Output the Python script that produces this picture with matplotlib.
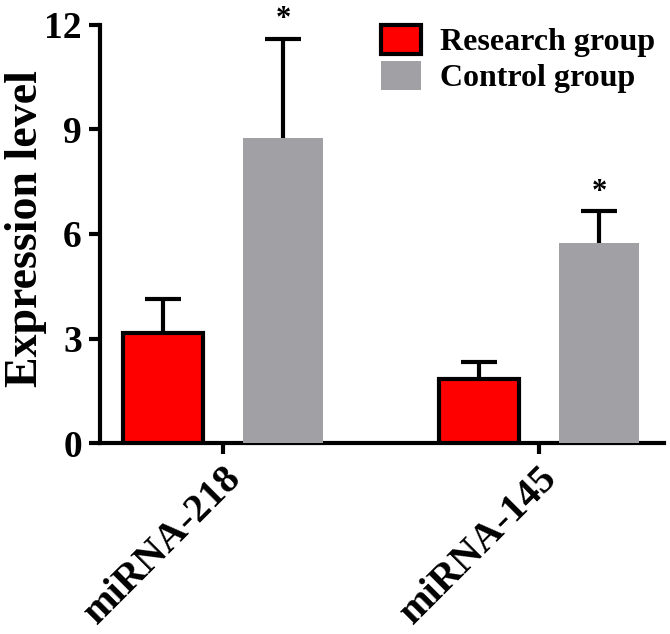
import numpy as np
import matplotlib
matplotlib.use("Agg")
import matplotlib.pyplot as plt
import matplotlib.transforms as mtrans

plt.rcParams['font.family'] = ['Liberation Serif', 'DejaVu Serif']
plt.rcParams['font.weight'] = 'bold'

# data
genes = ["miRNA-218", "miRNA-145"]
research_mean = [3.15, 1.85]
research_err = [0.98, 0.48]
control_mean = [8.75, 5.75]
control_err = [2.85, 0.9]
groups = ["Research group", "Control group"]

fig = plt.figure(figsize=(6.7, 6.34), dpi=100)
ax = fig.add_axes([0.149, 0.301, 0.842, 0.66])

x = np.arange(len(genes))
off = 0.19
w = 0.255

b1 = ax.bar(x - off, research_mean, width=w, color="#ff0000", edgecolor="black",
            linewidth=3, label=groups[0], zorder=3,
            yerr=[np.zeros(len(genes)), research_err], capsize=13,
            error_kw=dict(elinewidth=3, capthick=3, ecolor="black", zorder=2))
b2 = ax.bar(x + off, control_mean, width=w, color="#a1a1a5", edgecolor="none",
            label=groups[1], zorder=3,
            yerr=[np.zeros(len(genes)), control_err], capsize=13,
            error_kw=dict(elinewidth=3, capthick=3, ecolor="black", zorder=2))

# only the upper half of each error bar is shown, drop the lower caps
for bc, means in [(b1, research_mean), (b2, control_mean)]:
    for cap in bc.errorbar.lines[1]:
        if np.allclose(cap.get_ydata(), means):
            cap.set_visible(False)

# significance stars above control bars
for xi, m, e in zip(x, control_mean, control_err):
    ax.text(xi + off, m + e + 0.12, "*", ha="center", va="bottom",
            fontsize=22, fontweight="bold")

ax.set_xlim(-0.39, 1.396)
ax.set_ylim(0, 12)
ax.set_yticks([0, 3, 6, 9, 12])
ax.set_xticks(x)
ax.set_xticklabels(genes, rotation=45, ha="right", rotation_mode="anchor",
                   fontsize=29, fontweight="bold")
shift = mtrans.ScaledTranslation(-0.09, 0, fig.dpi_scale_trans)
for lbl in ax.get_xticklabels():
    lbl.set_transform(lbl.get_transform() + shift)
ax.tick_params(axis="y", labelsize=27, width=3, length=8, pad=5)
ax.tick_params(axis="x", width=3, length=8, pad=4)
for t in ax.get_yticklabels():
    t.set_fontweight("bold")

ax.spines['top'].set_visible(False)
ax.spines['right'].set_visible(False)
ax.spines['left'].set_linewidth(3)
ax.spines['bottom'].set_linewidth(3)

ax.set_ylabel("Expression level", fontsize=33, fontweight="bold", va="center")
ax.yaxis.set_label_coords(-0.13, 0.514)

ax.legend(loc="upper right", bbox_to_anchor=(1.035, 1.068), frameon=False,
          prop={"size": 23, "weight": "bold"}, handlelength=1.25,
          handleheight=1.0, handletextpad=0.6, labelspacing=0.12)

fig.savefig("out.png", dpi=100)
